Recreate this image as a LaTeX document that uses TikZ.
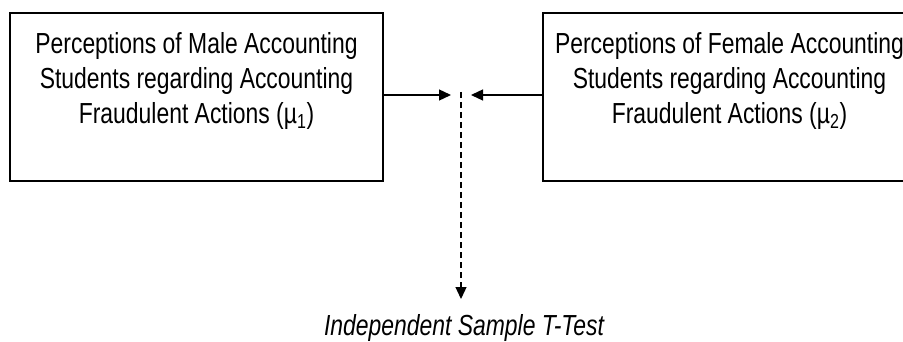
\documentclass[tikz,border=0pt]{standalone}
\usepackage{fontspec}
\setmainfont[FakeStretch=0.79]{Liberation Sans}
\usetikzlibrary{arrows.meta}

\begin{document}
\begin{tikzpicture}[x=1pt, y=-1pt, >={Triangle[length=12pt,width=11pt]},
  box/.style={draw, line width=1.3pt, minimum width=373pt, minimum height=168pt, inner sep=0pt},
  boxtext/.style={anchor=north, align=center, inner sep=0pt, font=\fontsize{29}{35}\selectfont},
  link/.style={->, line width=1.3pt}]
  \useasboundingbox (0,0) rectangle (903,342);

  \node[box] (male) at (196.5,97) {};
  \node[box] (female) at (729.5,97) {};
  \node[boxtext] (maletext) at (196.5,32)
    {Perceptions of Male Accounting\\ Students regarding Accounting\\ Fraudulent Actions (µ\textsubscript{1})};
  \node[boxtext] (femaletext) at (729.5,32)
    {Perceptions of Female Accounting\\ Students regarding Accounting\\ Fraudulent Actions (µ\textsubscript{2})};

  \coordinate (lefttip) at (451,95);
  \coordinate (righttip) at (471,95);
  \coordinate (split) at (461,92);
  \coordinate (testtip) at (461,299);

  \draw[link] (male.east |- lefttip) -- (lefttip);
  \draw[link] (female.west |- righttip) -- (righttip);
  \draw[link, dash pattern=on 6pt off 4pt] (split) -- (testtip);

  \node[anchor=base, inner sep=0pt, font=\fontsize{29}{35}\selectfont\itshape] (ttest) at (464,335)
    {Independent Sample T-Test};
\end{tikzpicture}
\end{document}
